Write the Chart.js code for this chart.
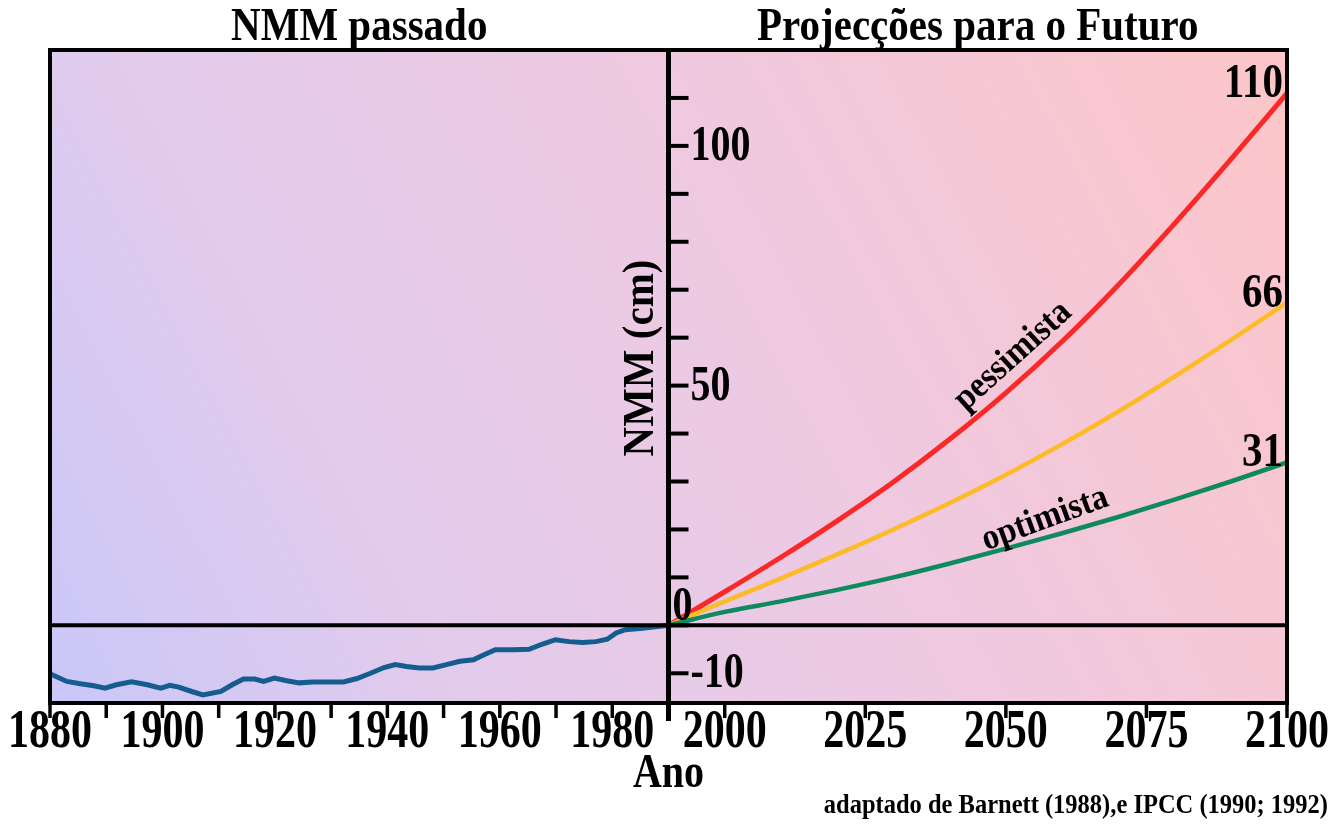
<!DOCTYPE html>
<html>
<head>
<meta charset="utf-8">
<script src="https://cdn.jsdelivr.net/npm/chart.js@4.4.1/dist/chart.umd.min.js"></script>
<style>
  html, body { margin: 0; padding: 0; background: #fff; }
  #wrap { width: 1344px; height: 831px; position: relative; }
</style>
</head>
<body>
<div id="wrap"><canvas id="nmm-chart"></canvas></div>
<script>
// NMM passado (cm)
var pastYears = [1880, 1883, 1885.4, 1887.8, 1889.8, 1891.8, 1894.5, 1897.3, 1899.7, 1901.3, 1902.9, 1905.2, 1907.2, 1910.4, 1912.4, 1914.4, 1916.4, 1918, 1919.9, 1921.9, 1924.3, 1926.7, 1929.9, 1932.2, 1934.6, 1937, 1939.4, 1941.4, 1943.4, 1945.7, 1948.1, 1950.5, 1952.9, 1955.3, 1957.3, 1959.2, 1962.4, 1965.2, 1967.6, 1969.9, 1972.3, 1974.7, 1977.1, 1979.1, 1980.7, 1982.3, 1985.4, 1990];
var pastLevels = [-10.1, -11.7, -12.2, -12.6, -13.1, -12.4, -11.8, -12.4, -13.1, -12.5, -12.9, -13.8, -14.5, -13.8, -12.4, -11.2, -11.2, -11.7, -11.0, -11.5, -12.0, -11.8, -11.8, -11.8, -11.1, -10.0, -8.8, -8.2, -8.6, -8.9, -8.9, -8.2, -7.5, -7.2, -6.1, -5.1, -5.1, -5.0, -3.9, -3.0, -3.4, -3.6, -3.4, -2.9, -1.6, -0.9, -0.6, 0];

// projecções
var futureYears = [1990, 2000, 2010, 2020, 2030, 2040, 2050, 2060, 2070, 2080, 2090, 2100];
var pessimista = [0, 7, 14.2, 21.8, 29.9, 38.8, 48.5, 59.2, 71, 83.8, 97.2, 111];
var intermedio = [0, 5, 9.8, 14.8, 20, 25.5, 31.4, 37.8, 44.6, 51.9, 59.5, 67.3];
var optimista = [0, 2.8, 5, 7.4, 10, 12.9, 16, 19.2, 22.6, 26.2, 30, 34];

var endLabels = ["110", "66", "31"];

// eixos
var xTicks = [1880, 1890, 1900, 1910, 1920, 1930, 1940, 1950, 1960, 1970, 1980, 1990, 2000, 2025, 2050, 2075, 2100];
var xLabels = [1880, 1900, 1920, 1940, 1960, 1980, 2000, 2025, 2050, 2075, 2100];
var yTicks = [-10, 0, 10, 20, 30, 40, 50, 60, 70, 80, 90, 100, 110];
var yLabels = [100, 50, 0, -10];

var SERIF = '"Liberation Serif", "Times New Roman", serif';

function toPoints(xs, ys) {
  return xs.map(function (x, i) { return { x: x, y: ys[i] }; });
}

// texto com esticamento vertical (a figura original tem letra mais alta)
function drawText(ctx, str, x, y, size, align, baseline, angle, sy) {
  ctx.save();
  ctx.translate(x, y);
  if (angle) ctx.rotate(angle * Math.PI / 180);
  ctx.scale(1, sy || 1);
  ctx.font = "bold " + size + "px " + SERIF;
  ctx.fillStyle = "#000";
  ctx.textAlign = align || "center";
  ctx.textBaseline = baseline || "middle";
  ctx.fillText(str, 0, 0);
  ctx.restore();
}

var figurePlugin = {
  id: "figure",
  beforeDatasetsDraw: function (chart) {
    var ctx = chart.ctx, a = chart.chartArea;
    var g = ctx.createLinearGradient(a.left, a.bottom, a.right, a.top);
    g.addColorStop(0, "#c9c7f9");
    g.addColorStop(0.25, "#e1cbec");
    g.addColorStop(0.6, "#efc9e0");
    g.addColorStop(1, "#fdc6c8");
    ctx.save();
    ctx.fillStyle = g;
    ctx.fillRect(a.left, a.top, a.right - a.left, a.bottom - a.top);
    ctx.restore();
  },
  afterDatasetsDraw: function (chart) {
    var ctx = chart.ctx, a = chart.chartArea;
    var xs = chart.scales.x, ys = chart.scales.y;
    var axisX = xs.getPixelForValue(1990);
    var zeroY = ys.getPixelForValue(0);

    ctx.save();
    ctx.strokeStyle = "#000";
    ctx.lineCap = "butt";

    // moldura
    ctx.lineWidth = 4;
    ctx.strokeRect(a.left, a.top, a.right - a.left, a.bottom - a.top);

    // linha do zero
    ctx.beginPath();
    ctx.moveTo(a.left, zeroY);
    ctx.lineTo(a.right, zeroY);
    ctx.stroke();

    // eixo vertical em 1990
    ctx.lineWidth = 5;
    ctx.beginPath();
    ctx.moveTo(axisX, a.top);
    ctx.lineTo(axisX, a.bottom + 18);
    ctx.stroke();

    // marcas do eixo y (para a direita)
    ctx.lineWidth = 4;
    yTicks.forEach(function (v) {
      var py = ys.getPixelForValue(v);
      ctx.beginPath();
      ctx.moveTo(axisX, py);
      ctx.lineTo(axisX + 20, py);
      ctx.stroke();
    });

    // marcas do eixo x (para baixo)
    ctx.lineWidth = 3.5;
    xTicks.forEach(function (v) {
      var px = xs.getPixelForValue(v);
      ctx.beginPath();
      ctx.moveTo(px, a.bottom);
      ctx.lineTo(px, a.bottom + 15);
      ctx.stroke();
    });
    ctx.restore();

    // rótulos do eixo x
    xLabels.forEach(function (v) {
      drawText(ctx, String(v), xs.getPixelForValue(v), a.bottom + 30, 42, "center", "middle", 0, 1.32);
    });

    // rótulos do eixo y
    yLabels.forEach(function (v) {
      var py = ys.getPixelForValue(v);
      if (v === 0) {
        drawText(ctx, "0", axisX + 4, py - 5, 40, "left", "alphabetic", 0, 1.2);
      } else {
        drawText(ctx, String(v), axisX + 22, py + 1, 40, "left", "middle", 0, 1.25);
      }
    });

    // valores finais
    var ends = [pessimista, intermedio, optimista];
    ends.forEach(function (arr, i) {
      var py = ys.getPixelForValue(arr[arr.length - 1]);
      drawText(ctx, endLabels[i], a.right - 4, py + 4, 41, "right", "alphabetic", 0, 1.2);
    });

    // nomes das curvas
    drawText(ctx, "pessimista", 1013, 356, 33, "center", "middle", -42, 1.1);
    drawText(ctx, "optimista", 1045, 519, 33, "center", "middle", -20, 1.1);

    // títulos
    drawText(ctx, "NMM passado", (a.left + axisX) / 2, 28, 41, "center", "middle", 0, 1.12);
    drawText(ctx, "Projecções para o Futuro", (axisX + a.right) / 2, 28, 41, "center", "middle", 0, 1.12);
    drawText(ctx, "NMM (cm)", 641, 358, 41, "center", "middle", -90, 1.1);
    drawText(ctx, "Ano", axisX, 775, 40, "center", "middle", 0, 1.2);
    drawText(ctx, "adaptado de Barnett (1988),e IPCC (1990; 1992)", 1328, 806, 24.5, "right", "middle", 0, 1.15);
  }
};

document.addEventListener("DOMContentLoaded", function () {
  var nmmChart = new Chart(document.getElementById("nmm-chart").getContext("2d"), {
    type: "line",
    data: {
      datasets: [
        {
          label: "NMM passado",
          data: toPoints(pastYears, pastLevels),
          borderColor: "#155d8e",
          borderWidth: 5,
          pointRadius: 0,
          tension: 0,
          fill: false,
        },
        {
          label: "optimista",
          data: toPoints(futureYears, optimista),
          borderColor: "#0f8a5e",
          borderWidth: 4.5,
          pointRadius: 0,
          cubicInterpolationMode: "monotone",
          fill: false,
        },
        {
          label: "intermédio",
          data: toPoints(futureYears, intermedio),
          borderColor: "#fdbb28",
          borderWidth: 4.5,
          pointRadius: 0,
          cubicInterpolationMode: "monotone",
          fill: false,
        },
        {
          label: "pessimista",
          data: toPoints(futureYears, pessimista),
          borderColor: "#fb2828",
          borderWidth: 5,
          pointRadius: 0,
          cubicInterpolationMode: "monotone",
          fill: false,
        },
      ],
    },
    options: {
      responsive: true,
      maintainAspectRatio: false,
      animation: false,
      layout: {
        padding: { left: 50, top: 50, right: 57, bottom: 128 },
      },
      plugins: {
        legend: { display: false },
        tooltip: { enabled: false },
      },
      scales: {
        x: {
          type: "linear",
          min: 1880,
          max: 2100,
          display: false,
        },
        y: {
          type: "linear",
          min: -16.2,
          max: 120,
          display: false,
        },
      },
    },
    plugins: [figurePlugin],
  });
});
</script>
</body>
</html>
